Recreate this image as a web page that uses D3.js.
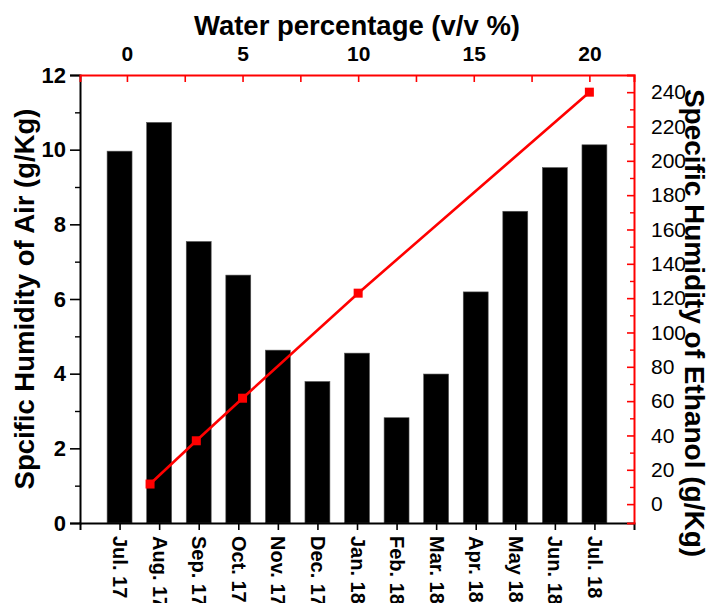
<!DOCTYPE html>
<html>
<head>
<meta charset="utf-8">
<script src="https://cdn.jsdelivr.net/npm/d3@7"></script>
<style>
  html, body { margin: 0; padding: 0; background: #fff; }
  svg { display: block; font-family: Arial, "Liberation Sans", sans-serif; }
</style>
</head>
<body>
<svg id="chart" width="708" height="603"></svg>
<script>
// Monthly specific humidity of air (bars, left axis)
const months = ["Jul. 17", "Aug. 17", "Sep. 17", "Oct. 17", "Nov. 17", "Dec. 17",
                "Jan. 18", "Feb. 18", "Mar. 18", "Apr. 18", "May 18", "Jun. 18", "Jul. 18"];
const airHumidity = [9.96, 10.73, 7.54, 6.64, 4.63, 3.79, 4.55, 2.82, 3.99, 6.19, 8.35, 9.52, 10.13];

// Specific humidity of ethanol vs water percentage (red line, top/right axes)
const waterPct = [1, 3, 5, 10, 20];
const ethanolHumidity = [11.7, 36.9, 61.7, 122.9, 240];

// Tick values
const leftTicks = [0, 2, 4, 6, 8, 10, 12];
const leftMinor = [1, 3, 5, 7, 9, 11];
const rightTicks = [0, 20, 40, 60, 80, 100, 120, 140, 160, 180, 200, 220, 240];
const rightMinor = [10, 30, 50, 70, 90, 110, 130, 150, 170, 190, 210, 230];
const topTicks = [0, 5, 10, 15, 20];
const topMinor = [2.5, 7.5, 12.5, 17.5];

const RED = "#ff0000";
const plot = { left: 80, right: 634, top: 75, bottom: 523 };

const svg = d3.select("#chart");

const x = d3.scalePoint().domain(months).range([plot.left, plot.right]).padding(1);
const yL = d3.scaleLinear().domain([0, 12]).range([plot.bottom, plot.top]);
const yR = d3.scaleLinear().domain([-11, 250]).range([plot.bottom, plot.top]);
const xT = d3.scaleLinear().domain([-2.03, 21.93]).range([plot.left, plot.right]);

const barW = x.step() * 0.63;

// Bars
svg.append("g")
  .selectAll("rect")
  .data(months.map((m, i) => ({ m, v: airHumidity[i] })))
  .join("rect")
  .attr("x", d => x(d.m) - barW / 2)
  .attr("y", d => yL(d.v))
  .attr("width", barW)
  .attr("height", d => yL(0) - yL(d.v))
  .attr("fill", "#000")
  .attr("stroke", "#555")
  .attr("stroke-width", 0.6);

// Helper to restyle an axis
function styleAxis(g, color, weight, size) {
  g.select(".domain").attr("stroke", color).attr("stroke-width", 2);
  g.selectAll(".tick line").attr("stroke", color).attr("stroke-width", 1.6);
  g.selectAll(".tick text")
    .attr("fill", "#000")
    .style("font-size", size + "px")
    .style("font-weight", weight);
}

// Left axis (black, ticks outward)
const gL = svg.append("g").attr("transform", `translate(${plot.left},0)`)
  .call(d3.axisLeft(yL).tickValues(leftTicks).tickSizeOuter(0).tickSize(10).tickPadding(4));
styleAxis(gL, "#000", "bold", 22);
svg.append("g").attr("transform", `translate(${plot.left},0)`)
  .call(d3.axisLeft(yL).tickValues(leftMinor).tickSize(5).tickFormat(""))
  .call(g => g.select(".domain").remove())
  .selectAll("line").attr("stroke", "#000").attr("stroke-width", 1.4);

// Bottom axis (black, ticks outward, rotated month labels)
const gB = svg.append("g").attr("transform", `translate(0,${plot.bottom})`)
  .call(d3.axisBottom(x).tickSizeOuter(0).tickSize(7));
gB.select(".domain").attr("stroke", "#000").attr("stroke-width", 2);
gB.selectAll(".tick line").attr("stroke", "#000").attr("stroke-width", 1.6);
gB.selectAll(".tick text")
  .attr("y", 0).attr("dy", "0.35em")
  .attr("transform", "translate(0,13) rotate(90)")
  .attr("text-anchor", "start")
  .attr("fill", "#000")
  .style("font-size", "20px")
  .style("font-weight", "bold");

// Top axis (red, ticks inward)
const gT = svg.append("g").attr("transform", `translate(0,${plot.top})`)
  .call(d3.axisTop(xT).tickValues(topTicks).tickSizeOuter(0).tickSize(-7).tickPadding(14));
styleAxis(gT, RED, "bold", 21);
gT.selectAll(".tick text").attr("y", -14);
svg.append("g").attr("transform", `translate(0,${plot.top})`)
  .call(d3.axisTop(xT).tickValues(topMinor).tickSize(-7).tickFormat(""))
  .call(g => g.select(".domain").remove())
  .selectAll("line").attr("stroke", RED).attr("stroke-width", 1.6);

// Right axis (red, ticks inward)
const gR = svg.append("g").attr("transform", `translate(${plot.right},0)`)
  .call(d3.axisRight(yR).tickValues(rightTicks).tickSizeOuter(0).tickSize(-7).tickPadding(17));
styleAxis(gR, RED, "normal", 21);
svg.append("g").attr("transform", `translate(${plot.right},0)`)
  .call(d3.axisRight(yR).tickValues(rightMinor).tickSize(-4).tickFormat(""))
  .call(g => g.select(".domain").remove())
  .selectAll("line").attr("stroke", RED).attr("stroke-width", 1.4);

// Red ethanol line with square markers
const pts = waterPct.map((w, i) => [xT(w), yR(ethanolHumidity[i])]);
svg.append("path")
  .attr("d", d3.line()(pts))
  .attr("fill", "none")
  .attr("stroke", RED)
  .attr("stroke-width", 2.6);
svg.append("g").selectAll("rect")
  .data(pts)
  .join("rect")
  .attr("x", d => d[0] - 4.5)
  .attr("y", d => d[1] - 4.5)
  .attr("width", 9)
  .attr("height", 9)
  .attr("fill", RED);

// Axis titles
svg.append("text")
  .attr("x", (plot.left + plot.right) / 2)
  .attr("y", 35)
  .attr("text-anchor", "middle")
  .style("font-size", "27.5px").style("font-weight", "bold")
  .text("Water percentage (v/v %)");

svg.append("text")
  .attr("transform", `translate(34,${(plot.top + plot.bottom) / 2}) rotate(-90)`)
  .attr("text-anchor", "middle")
  .style("font-size", "27.5px").style("font-weight", "bold")
  .text("Spcific Humidity of Air (g/Kg)");

svg.append("text")
  .attr("transform", `translate(685,323) rotate(90)`)
  .attr("text-anchor", "middle")
  .style("font-size", "28px").style("font-weight", "bold")
  .text("Specific Humidity of Ethanol (g/Kg)");
</script>
</body>
</html>
